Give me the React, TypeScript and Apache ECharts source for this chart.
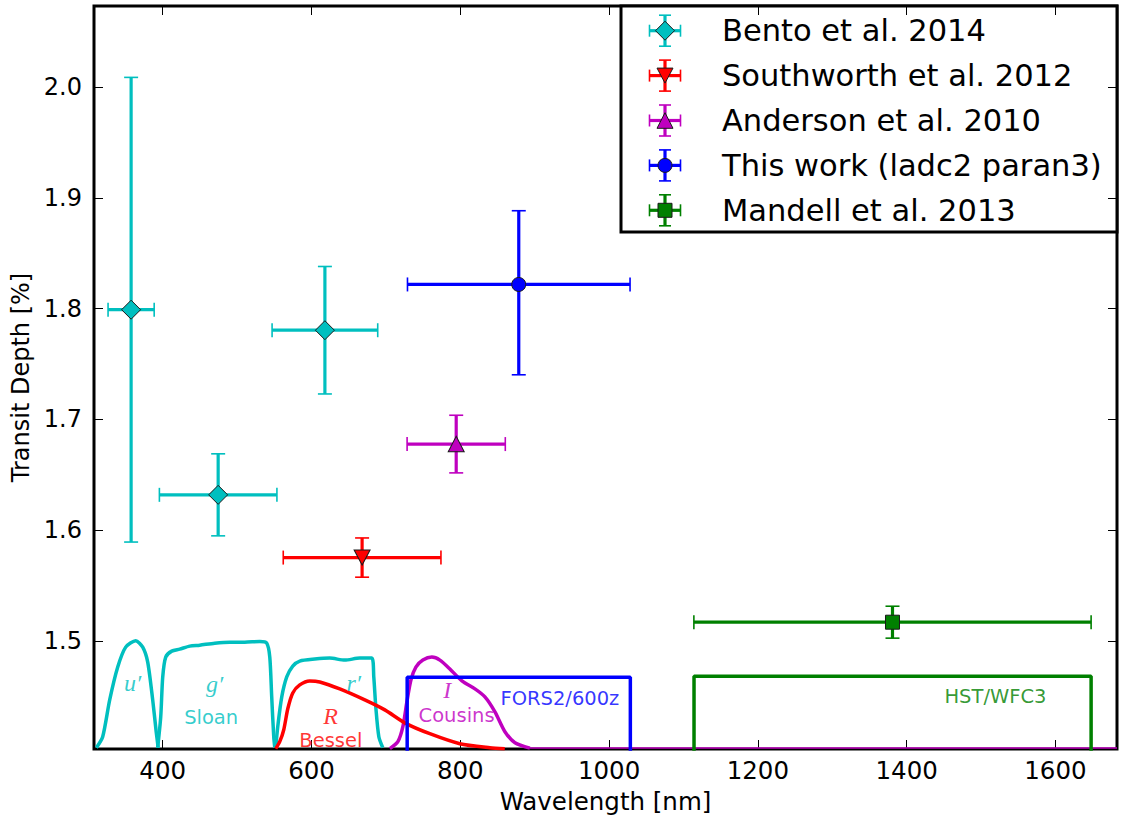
import React, { useEffect, useRef } from "react";
import * as echarts from "echarts";

// ---------------- data ----------------
const xTicks = [400, 600, 800, 1000, 1200, 1400, 1600];
const yTicks = [1.5, 1.6, 1.7, 1.8, 1.9, 2.0];

// [x, y, xerr, yerr(low), yerr(high)]
const bentoX = [357.5, 474.5, 618.0];
const bentoXerr = [31, 79, 71];
const bentoY = [1.799, 1.632, 1.7805];
const bentoYerrLo = [0.2096, 0.037, 0.0575];
const bentoYerrHi = [0.2096, 0.037, 0.0575];

const southX = [668];
const southXerr = [106];
const southY = [1.5754];
const southYerrLo = [0.0177];
const southYerrHi = [0.0177];

const andX = [794.5];
const andXerr = [66];
const andY = [1.6778];
const andYerrLo = [0.026];
const andYerrHi = [0.026];

const thisX = [878.6];
const thisXerr = [149.6];
const thisY = [1.8218];
const thisYerrLo = [0.0815];
const thisYerrHi = [0.0665];

const mandX = [1381];
const mandXerr = [267];
const mandY = [1.5171];
const mandYerrLo = [0.0144];
const mandYerrHi = [0.0144];

// filter transmission curves (x: nm, y: plotted level)
const uBand = [
  [310.8, 1.4039], [319.3, 1.4138], [328.7, 1.447], [339.5, 1.4766], [350.2, 1.4946],
  [363.7, 1.5004], [373.1, 1.4946], [379.8, 1.4811], [386.5, 1.447], [391.2, 1.4183], [393.9, 1.4039],
];
const gBand = [
  [393.2, 1.4039], [397.3, 1.4317], [400.0, 1.4677], [404.0, 1.4856], [412.1, 1.491],
  [422.8, 1.4928], [436.3, 1.4955], [449.7, 1.4964], [469.9, 1.4982], [490.0, 1.4991],
  [510.2, 1.4991], [530.4, 1.4996], [539.8, 1.4982], [543.9, 1.4856], [546.5, 1.4497],
  [549.2, 1.4138], [550.6, 1.4039],
];
const rBand = [
  [551.9, 1.4039], [554.6, 1.4228], [560.0, 1.4497], [566.7, 1.4677], [574.8, 1.4775],
  [584.2, 1.482], [604.4, 1.4838], [624.5, 1.4847], [644.7, 1.4829], [664.9, 1.4847],
  [681.0, 1.4847], [683.7, 1.4677], [686.4, 1.4407], [690.5, 1.4138], [695.8, 1.4039],
];
const rBessel = [
  [551.9, 1.403], [557.3, 1.4093], [562.7, 1.4201], [568.1, 1.439], [574.8, 1.4533],
  [584.2, 1.4605], [597.6, 1.4641], [611.1, 1.4632], [638.0, 1.4569], [671.6, 1.447],
  [698.5, 1.438], [725.4, 1.4263], [759.0, 1.4165], [799.3, 1.4075], [839.7, 1.4039], [859.8, 1.403],
];
const iCousins = [
  [705.3, 1.403], [716.1, 1.4093], [722.8, 1.4228], [728.2, 1.4452], [733.6, 1.465],
  [740.3, 1.4766], [749.7, 1.4829], [761.8, 1.4856], [772.6, 1.4829], [786.0, 1.4749],
  [802.2, 1.4641], [819.7, 1.4569], [833.1, 1.4497], [846.6, 1.4362], [860.0, 1.4183],
  [873.5, 1.4084], [893.6, 1.4035],
];
const iCousinsTail = [[893.6, 1.4035], [1682.8, 1.4035]];
const fors2Box = [[728.6, 1.4], [728.6, 1.4675], [1028.6, 1.4675], [1028.6, 1.4]];
const hstBox = [[1114.2, 1.4], [1114.2, 1.4683], [1648, 1.4683], [1648, 1.4]];

const annotTexts = ["u′", "g′", "Sloan", "r′", "R", "Bessel", "I", "Cousins", "FORS2/600z", "HST/WFC3"];
const annotX = [359.6, 469.9, 465.1, 656.8, 625.5, 626.0, 782.5, 795.0, 933.9, 1519.4];
const annotY = [1.4625, 1.4610, 1.4315, 1.4625, 1.4325, 1.4100, 1.4560, 1.4325, 1.4479, 1.45];

const legendNames = [
  "Bento et al. 2014",
  "Southworth et al. 2012",
  "Anderson et al. 2010",
  "This work (ladc2 paran3)",
  "Mandell et al. 2013",
];

// ---------------- styles ----------------
const CYAN = "#00bfbf";
const RED = "#ff0000";
const MAG = "#bf00bf";
const BLUE = "#0000ff";
const GREEN = "#008000";
const FONT = "DejaVu Sans";

const X_MIN = 307.6, X_MAX = 1682.8, Y_MIN = 1.4027, Y_MAX = 2.073;

const annotStyle = [
  { color: CYAN, italic: true }, { color: CYAN, italic: true }, { color: CYAN, italic: false },
  { color: CYAN, italic: true }, { color: RED, italic: true }, { color: RED, italic: false },
  { color: MAG, italic: true }, { color: MAG, italic: false }, { color: BLUE, italic: false },
  { color: GREEN, italic: false },
];

function zip5(x: number[], y: number[], ex: number[], eyl: number[], eyh: number[]) {
  return x.map((v, i) => [v, y[i], ex[i], eyl[i], eyh[i]]);
}

function errRender(color: string) {
  return (params: any, api: any) => {
    const x = api.value(0), y = api.value(1), ex = api.value(2), eyl = api.value(3), eyh = api.value(4);
    const l = api.coord([x - ex, y]);
    const r = api.coord([x + ex, y]);
    const t = api.coord([x, y + eyh]);
    const b = api.coord([x, y - eyl]);
    const cap = 7;
    const ls = { stroke: color, lineWidth: 3.2 };
    const cs = { stroke: color, lineWidth: 1.6 };
    return {
      type: "group",
      children: [
        { type: "line", shape: { x1: l[0], y1: l[1], x2: r[0], y2: r[1] }, style: ls },
        { type: "line", shape: { x1: t[0], y1: t[1], x2: b[0], y2: b[1] }, style: ls },
        { type: "line", shape: { x1: l[0], y1: l[1] - cap, x2: l[0], y2: l[1] + cap }, style: cs },
        { type: "line", shape: { x1: r[0], y1: r[1] - cap, x2: r[0], y2: r[1] + cap }, style: cs },
        { type: "line", shape: { x1: t[0] - cap, y1: t[1], x2: t[0] + cap, y2: t[1] }, style: cs },
        { type: "line", shape: { x1: b[0] - cap, y1: b[1], x2: b[0] + cap, y2: b[1] }, style: cs },
      ],
    };
  };
}

function legendGraphic() {
  const colors = [CYAN, RED, MAG, BLUE, GREEN];
  const kinds = ["diamond", "tdown", "tup", "circle", "square"];
  const children: any[] = [
    {
      type: "rect",
      shape: { x: 621, y: 6, width: 496, height: 226 },
      style: { fill: "#fff", stroke: "#000", lineWidth: 3 },
    },
  ];
  const cx = 665;
  legendNames.forEach((name, i) => {
    const cy = 30.7 + i * 44.9;
    const c = colors[i];
    const ls = { stroke: c, lineWidth: 3.2 };
    const cs = { stroke: c, lineWidth: 1.6 };
    children.push(
      { type: "line", shape: { x1: cx - 15.5, y1: cy, x2: cx + 15.5, y2: cy }, style: ls },
      { type: "line", shape: { x1: cx, y1: cy - 15.5, x2: cx, y2: cy + 15.5 }, style: ls },
      { type: "line", shape: { x1: cx - 15.5, y1: cy - 6, x2: cx - 15.5, y2: cy + 6 }, style: cs },
      { type: "line", shape: { x1: cx + 15.5, y1: cy - 6, x2: cx + 15.5, y2: cy + 6 }, style: cs },
      { type: "line", shape: { x1: cx - 6, y1: cy - 15.5, x2: cx + 6, y2: cy - 15.5 }, style: cs },
      { type: "line", shape: { x1: cx - 6, y1: cy + 15.5, x2: cx + 6, y2: cy + 15.5 }, style: cs }
    );
    const ms = { fill: c, stroke: "#1a1a1a", lineWidth: 1 };
    const k = kinds[i];
    if (k === "diamond") {
      children.push({ type: "polygon", shape: { points: [[cx, cy - 9.5], [cx + 9.5, cy], [cx, cy + 9.5], [cx - 9.5, cy]] }, style: ms });
    } else if (k === "tdown") {
      children.push({ type: "polygon", shape: { points: [[cx - 8, cy - 7.5], [cx + 8, cy - 7.5], [cx, cy + 7.5]] }, style: ms });
    } else if (k === "tup") {
      children.push({ type: "polygon", shape: { points: [[cx, cy - 7.8], [cx + 8, cy + 7.8], [cx - 8, cy + 7.8]] }, style: ms });
    } else if (k === "circle") {
      children.push({ type: "circle", shape: { cx, cy, r: 7 }, style: ms });
    } else {
      children.push({ type: "rect", shape: { x: cx - 7, y: cy - 7, width: 14, height: 14 }, style: ms });
    }
    children.push({
      type: "text",
      x: 722,
      y: cy,
      style: { text: name, fill: "#000", font: `30.5px "${FONT}"`, textVerticalAlign: "middle", textAlign: "left" },
    });
  });
  return [{ type: "group", z: 100, children }];
}

export default function App() {
  const ref = useRef<HTMLDivElement>(null);
  useEffect(() => {
    if (!ref.current) return;
    const chart = echarts.init(ref.current, undefined, { renderer: "svg" });

    const curveLine = (data: number[][], color: string, width = 3.5, smooth: any = 0.25) => ({
      type: "line",
      data,
      showSymbol: false,
      symbol: "none",
      silent: true,
      smooth,
      lineStyle: { color, width },
      z: 2,
      clip: true,
    });

    const marker = (x: number[], y: number[], color: string, symbol: string, size: any, rotate = 0) => ({
      type: "scatter",
      data: x.map((v, i) => [v, y[i]]),
      symbol,
      symbolSize: size,
      symbolRotate: rotate,
      itemStyle: { color, borderColor: "#1a1a1a", borderWidth: 1, opacity: 1 },
      silent: true,
      z: 6,
    });

    const errSeries = (d: number[][], color: string) => ({
      type: "custom",
      data: d,
      encode: { x: 0, y: 1 },
      renderItem: errRender(color),
      silent: true,
      z: 4,
    });

    const axisCommonX = {
      type: "value",
      min: X_MIN,
      max: X_MAX,
      splitLine: { show: false },
      axisLine: { show: false },
      axisTick: { show: true, inside: true, length: 9, customValues: xTicks, lineStyle: { color: "#000", width: 1 } },
    };
    const axisCommonY = {
      type: "value",
      min: Y_MIN,
      max: Y_MAX,
      splitLine: { show: false },
      axisLine: { show: false },
      axisTick: { show: true, inside: true, length: 9, customValues: yTicks, lineStyle: { color: "#000", width: 1 } },
    };

    chart.setOption({
      animation: false,
      backgroundColor: "#fff",
      grid: {
        left: 94,
        right: 4,
        top: 6,
        bottom: 67,
        show: true,
        borderColor: "#000",
        borderWidth: 3,
        backgroundColor: "transparent",
      },
      xAxis: [
        {
          ...axisCommonX,
          position: "bottom",
          name: "Wavelength [nm]",
          nameLocation: "middle",
          nameGap: 40,
          nameTextStyle: { fontFamily: FONT, fontSize: 24.5, color: "#000", verticalAlign: "top" },
          axisLabel: {
            show: true,
            customValues: xTicks,
            margin: 9,
            fontFamily: FONT,
            fontSize: 24.5,
            color: "#000",
            formatter: (v: number) => String(Math.round(v)),
          },
        },
        {
          ...axisCommonX,
          position: "top",
          axisLabel: { show: false },
        },
      ],
      yAxis: [
        {
          ...axisCommonY,
          position: "left",
          name: "Transit Depth [%]",
          nameLocation: "middle",
          nameGap: 60,
          nameRotate: 90,
          nameTextStyle: { fontFamily: FONT, fontSize: 24, color: "#000" },
          axisLabel: {
            show: true,
            customValues: yTicks,
            margin: 12,
            fontFamily: FONT,
            fontSize: 24,
            color: "#000",
            formatter: (v: number) => v.toFixed(1),
          },
        },
        {
          ...axisCommonY,
          position: "right",
          axisLabel: { show: false },
        },
      ],
      graphic: legendGraphic(),
      series: [
        curveLine(iCousinsTail, MAG, 1.5, false),
        curveLine(iCousins, MAG),
        curveLine(uBand, CYAN),
        curveLine(gBand, CYAN),
        curveLine(rBand, CYAN),
        curveLine(rBessel, RED),
        curveLine(fors2Box, BLUE, 3.5, false),
        curveLine(hstBox, GREEN, 3.5, false),
        {
          type: "scatter",
          silent: true,
          symbolSize: 1,
          itemStyle: { color: "transparent" },
          z: 3,
          data: annotTexts.map((t, i) => ({
            value: [annotX[i], annotY[i]],
            label: {
              show: true,
              position: "inside",
              formatter: t,
              color: annotStyle[i].color,
              fontSize: annotStyle[i].italic ? 24 : 19.5,
              fontFamily: annotStyle[i].italic ? "Liberation Serif" : FONT,
              fontStyle: annotStyle[i].italic ? "italic" : "normal",
            },
          })),
        },
        errSeries(zip5(bentoX, bentoY, bentoXerr, bentoYerrLo, bentoYerrHi), CYAN),
        errSeries(zip5(southX, southY, southXerr, southYerrLo, southYerrHi), RED),
        errSeries(zip5(andX, andY, andXerr, andYerrLo, andYerrHi), MAG),
        errSeries(zip5(thisX, thisY, thisXerr, thisYerrLo, thisYerrHi), BLUE),
        errSeries(zip5(mandX, mandY, mandXerr, mandYerrLo, mandYerrHi), GREEN),
        marker(bentoX, bentoY, CYAN, "diamond", [19, 19]),
        marker(southX, southY, RED, "triangle", [16, 15], 180),
        marker(andX, andY, MAG, "triangle", [16, 15.6]),
        marker(thisX, thisY, BLUE, "circle", 14),
        marker(mandX, mandY, GREEN, "rect", 14),
      ],
    });
    return () => chart.dispose();
  }, []);

  return (
    <div
      ref={ref}
      style={{ position: "fixed", left: 0, top: 0, width: 1121, height: 819, background: "#fff" }}
    />
  );
}
